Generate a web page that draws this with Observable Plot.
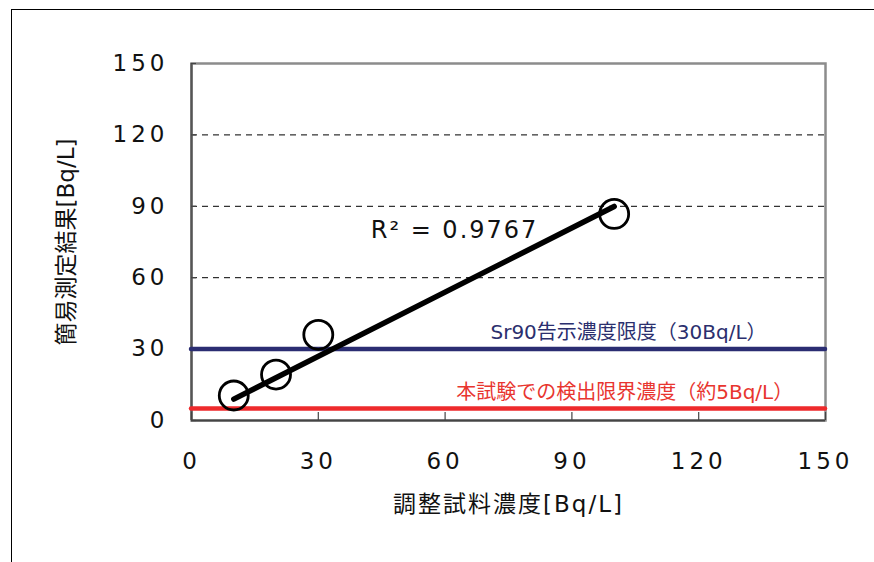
<!DOCTYPE html>
<html>
<head>
<meta charset="utf-8">
<script src="https://cdn.jsdelivr.net/npm/d3@7"></script>
<script src="https://cdn.jsdelivr.net/npm/@observablehq/plot@0.6"></script>
<style>
  html, body { margin: 0; padding: 0; background: #fff; width: 874px; height: 562px; overflow: hidden; }
  #wrap { position: relative; width: 874px; height: 562px; }
  #outer { position: absolute; left: 11px; top: 9px; width: 900px; height: 600px;
           border-left: 1.5px solid #000; border-top: 1.5px solid #000; pointer-events: none; }
  #chart { position: absolute; left: 0; top: 0; }
</style>
</head>
<body>
<div id="wrap"><div id="chart"></div><div id="outer"></div></div>
<script>
// ---- data ----
const adjustedConc = [10, 20, 30, 100];          // 調整試料濃度 [Bq/L]
const measuredConc = [10.5, 19.3, 36.0, 86.8];   // 簡易測定結果 [Bq/L]
const xTicks = [0, 30, 60, 90, 120, 150];
const yTicks = [0, 30, 60, 90, 120, 150];
const gridY = [30, 60, 90, 120];
const sr90Limit = [30];        // Sr90告示濃度限度
const detectionLimit = [5];    // 本試験での検出限界濃度
const xTitle = "調整試料濃度[Bq/L]";
const yTitle = "簡易測定結果[Bq/L]";
const r2Label = "R² = 0.9767";
const sr90Label = "Sr90告示濃度限度（30Bq/L）";
const detLabel = "本試験での検出限界濃度（約5Bq/L）";

// ---- derived ----
const points = adjustedConc.map((x, i) => ({x, y: measuredConc[i]}));
// linear trendline forced through the origin
const slope = d3.sum(points, d => d.x * d.y) / d3.sum(points, d => d.x * d.x);
const xExt = d3.extent(adjustedConc);
const trend = xExt.map(x => ({x, y: slope * x}));

const FONT = "'DejaVu Sans', 'Noto Sans CJK JP', sans-serif";

const W = 874, H = 562, ML = 191, MR = 49, MT = 63, MB = 142;
const frameW = W - ML - MR, frameH = H - MT - MB;

const chart = Plot.plot({
  width: W,
  height: H,
  marginLeft: ML,
  marginRight: MR,
  marginTop: MT,
  marginBottom: MB,
  style: {fontFamily: FONT, color: "#111", background: "transparent"},
  x: {domain: [0, 150]},
  y: {domain: [0, 150]},
  marks: [
    Plot.ruleY(gridY, {stroke: "#000", strokeWidth: 1, strokeDasharray: "6,5"}),
    Plot.frame({stroke: "#8c8c8c", strokeWidth: 2.5}),
    Plot.ruleX([0], {stroke: "#555", strokeWidth: 2.2}),
    Plot.ruleY([0], {stroke: "#444", strokeWidth: 2.2}),
    // inner tick marks
    Plot.tickX(xTicks, {x: d => d, insetTop: frameH - 8, stroke: "#444", strokeWidth: 1.2}),
    Plot.tickY(yTicks, {y: d => d, insetRight: frameW - 5, stroke: "#444", strokeWidth: 1.2}),
    // tick labels
    Plot.axisX({ticks: xTicks, tickSize: 0, tickPadding: 32, fontSize: 23, label: null, fill: "#111"}),
    Plot.axisY({ticks: yTicks, tickSize: 0, tickPadding: 23, fontSize: 23, label: null, fill: "#111"}),
    // reference lines
    Plot.ruleY(sr90Limit, {stroke: "#2b2d72", strokeWidth: 4.5, strokeLinecap: "round"}),
    Plot.ruleY(detectionLimit, {stroke: "#ee2a2c", strokeWidth: 4.5, strokeLinecap: "round"}),
    // data points
    Plot.dot(points, {x: "x", y: "y", r: 14.5, stroke: "#000", strokeWidth: 2.8, fill: "none"}),
    // trendline
    Plot.line(trend, {x: "x", y: "y", stroke: "#000", strokeWidth: 5.5, strokeLinecap: "round"}),
    // annotations
    Plot.text([r2Label], {x: 42.4, y: 79.8, textAnchor: "start", fontSize: 24, fill: "#111", className: "spaced2"}),
    Plot.text([sr90Label], {x: 103.4, y: 37.1, fontSize: 20, fill: "#2b2f6e"}),
    Plot.text([detLabel], {x: 102.5, y: 11.9, fontSize: 20, fill: "#e8352f"}),
    // axis titles
    Plot.text([xTitle], {frameAnchor: "bottom", dy: 91, fontSize: 23, fill: "#111", className: "spaced2"}),
    Plot.text([yTitle], {frameAnchor: "left", textAnchor: "middle", dx: -125, rotate: -90, fontSize: 23, fill: "#111"})
  ]
});
document.getElementById("chart").appendChild(chart);
const svg = d3.select(chart);
svg.selectAll('g[aria-label="x-axis tick label"] text, g[aria-label="y-axis tick label"] text')
  .attr("letter-spacing", 4);
svg.selectAll('.spaced2 text').attr("letter-spacing", 2);
</script>
</body>
</html>
